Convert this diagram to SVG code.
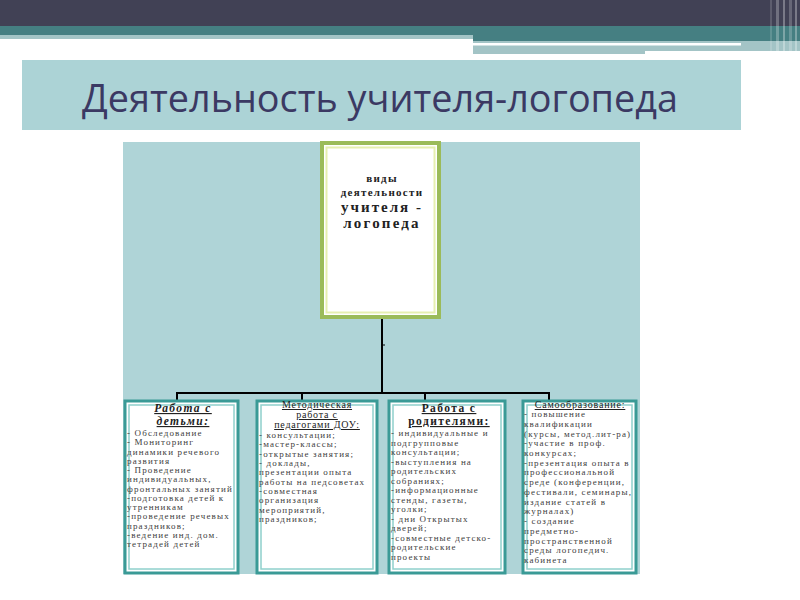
<svg xmlns="http://www.w3.org/2000/svg" width="800" height="600" viewBox="0 0 800 600">
<style>
.title{font-family:"Open Sans","DejaVu Sans",sans-serif;font-size:38px;fill:#3b3963}
.box{fill:#fff;stroke:#3a9a96;stroke-width:3}
.inner{fill:none;stroke:#8fd0cc;stroke-width:1.5}
.b{font-family:"Liberation Serif","DejaVu Serif",serif;font-size:9px;letter-spacing:1.15px;fill:#404040}
.h{font-family:"Liberation Serif","DejaVu Serif",serif;font-size:11.5px;font-weight:bold;fill:#222;text-anchor:middle;text-decoration:underline;letter-spacing:1.4px}
.hr{font-family:"Liberation Serif","DejaVu Serif",serif;font-size:10px;fill:#222;text-anchor:middle;text-decoration:underline;letter-spacing:0.8px}
.c{font-family:"Liberation Serif","DejaVu Serif",serif;font-weight:bold;fill:#222;text-anchor:middle}
.ln{stroke:#000;stroke-width:2;fill:none}
</style>
<rect width="800" height="600" fill="#fff"/>
<!-- header decoration -->
<rect x="0" y="0" width="800" height="26" fill="#414155"/>
<rect x="0" y="26" width="800" height="9" fill="#457f82"/>
<rect x="0" y="35" width="473" height="4" fill="#a3c4c6"/>
<rect x="473" y="35" width="327" height="6" fill="#457f82"/>
<rect x="473" y="41" width="327" height="10" fill="#a3c4c6"/>
<rect x="473" y="43" width="268" height="2.5" fill="#ffffff"/>
<rect x="473" y="46" width="172" height="8" fill="#a3c4c6"/>
<rect x="645" y="51" width="140" height="3" fill="#ffffff"/>
<g fill="#ffffff">
<rect x="770" y="0" width="2" height="55" opacity="0.15"/>
<rect x="776" y="0" width="3" height="55" opacity="0.25"/>
<rect x="783" y="0" width="2" height="55" opacity="0.3"/>
<rect x="789" y="0" width="3" height="55" opacity="0.2"/>
<rect x="795" y="0" width="2" height="55" opacity="0.3"/>
</g>
<!-- title -->
<g id="title">
<rect x="22" y="60" width="719" height="70" fill="#acd3d6"/>
<text class="title" x="82" y="112" textLength="596" lengthAdjust="spacingAndGlyphs">Деятельность учителя-логопеда</text>
</g>
<!-- panel -->
<rect x="123" y="142" width="517" height="432" fill="#afd4d7"/>
<!-- connectors -->
<g id="connectors">
<path class="ln" d="M382 318 V393 M177 393 H549 M177 392 V400 M302 392 V400 M425 392 V400 M549 392 V400"/>
<path d="M382 345 H385" stroke="#000" stroke-width="1"/>
</g>
<!-- center node -->
<g id="center">
<rect x="322" y="143" width="117" height="174" fill="#fff" stroke="#9bbb59" stroke-width="4"/>
<rect x="326.5" y="147.5" width="108" height="165" fill="none" stroke="#e6efb0" stroke-width="2"/>
<text class="c" x="382" y="182" font-size="11" letter-spacing="1.3">виды</text>
<text class="c" x="382" y="196" font-size="11" letter-spacing="1.3">деятельности</text>
<text class="c" x="382" y="212" font-size="15" letter-spacing="2">учителя -</text>
<text class="c" x="382" y="228" font-size="15" letter-spacing="2.2">логопеда</text>
</g>
<!-- box 1 -->
<g id="n1">
<rect class="box" x="125" y="401" width="113" height="172"/>
<rect class="inner" x="129" y="405" width="105" height="164"/>
<text class="h" x="183" y="412" font-style="italic">Работа с</text>
<text class="h" x="183" y="425" font-style="italic">детьми:</text>
<text class="b" x="127" y="436">- Обследование</text>
<text class="b" x="127" y="445.3">- Мониторинг</text>
<text class="b" x="127" y="454.5">динамики речевого</text>
<text class="b" x="127" y="463.8">развития</text>
<text class="b" x="127" y="473">- Проведение</text>
<text class="b" x="127" y="482.3">индивидуальных,</text>
<text class="b" x="127" y="491.5">фронтальных занятий</text>
<text class="b" x="127" y="500.8">-подготовка детей к</text>
<text class="b" x="127" y="510">утренникам</text>
<text class="b" x="127" y="519.3">-проведение речевых</text>
<text class="b" x="127" y="528.5">праздников;</text>
<text class="b" x="127" y="537.8">-ведение инд. дом.</text>
<text class="b" x="127" y="547">тетрадей детей</text>
</g>
<!-- box 2 -->
<g id="n2">
<rect class="box" x="257" y="401" width="120" height="172"/>
<rect class="inner" x="261" y="405" width="112" height="164"/>
<text class="hr" x="317" y="408">Методическая</text>
<text class="hr" x="317" y="418">работа с</text>
<text class="hr" x="317" y="428">педагогами ДОУ:</text>
<text class="b" x="259" y="438">- консультации;</text>
<text class="b" x="259" y="447.3">-мастер-классы;</text>
<text class="b" x="259" y="456.6">-открытые занятия;</text>
<text class="b" x="259" y="466">- доклады,</text>
<text class="b" x="259" y="475.3">презентации опыта</text>
<text class="b" x="259" y="484.6">работы на педсоветах</text>
<text class="b" x="259" y="494">-совместная</text>
<text class="b" x="259" y="503.3">организация</text>
<text class="b" x="259" y="512.6">мероприятий,</text>
<text class="b" x="259" y="522">праздников;</text>
</g>
<!-- box 3 -->
<g id="n3">
<rect class="box" x="389" y="401" width="116" height="172"/>
<rect class="inner" x="393" y="405" width="108" height="164"/>
<text class="h" x="449" y="412">Работа с</text>
<text class="h" x="449" y="425">родителями:</text>
<text class="b" x="391" y="436">- индивидуальные и</text>
<text class="b" x="391" y="445.5">подгрупповые</text>
<text class="b" x="391" y="455">консультации;</text>
<text class="b" x="391" y="464.5">-выступления на</text>
<text class="b" x="391" y="474">родительских</text>
<text class="b" x="391" y="483.5">собраниях;</text>
<text class="b" x="391" y="493">-информационные</text>
<text class="b" x="391" y="502.5">стенды, газеты,</text>
<text class="b" x="391" y="512">уголки;</text>
<text class="b" x="391" y="521.5">- дни Открытых</text>
<text class="b" x="391" y="531">дверей;</text>
<text class="b" x="391" y="540.5">-совместные детско-</text>
<text class="b" x="391" y="550">родительские</text>
<text class="b" x="391" y="559.5">проекты</text>
</g>
<!-- box 4 -->
<g id="n4">
<rect class="box" x="523" y="401" width="113" height="172"/>
<rect class="inner" x="527" y="405" width="105" height="164"/>
<text class="hr" x="580" y="408">Самообразование:</text>
<text class="b" x="524" y="417">- повышение</text>
<text class="b" x="524" y="426.7">квалификации</text>
<text class="b" x="524" y="436.5">(курсы, метод.лит-ра)</text>
<text class="b" x="524" y="446.2">-участие в проф.</text>
<text class="b" x="524" y="456">конкурсах;</text>
<text class="b" x="524" y="465.7">-презентация опыта в</text>
<text class="b" x="524" y="475.4">профессиональной</text>
<text class="b" x="524" y="485.1">среде (конференции,</text>
<text class="b" x="524" y="494.9">фестивали, семинары,</text>
<text class="b" x="524" y="504.6">издание статей в</text>
<text class="b" x="524" y="514.3">журналах)</text>
<text class="b" x="524" y="524">- создание</text>
<text class="b" x="524" y="533.8">предметно-</text>
<text class="b" x="524" y="543.5">пространственной</text>
<text class="b" x="524" y="553.2">среды логопедич.</text>
<text class="b" x="524" y="563">кабинета</text>
</g>
</svg>
